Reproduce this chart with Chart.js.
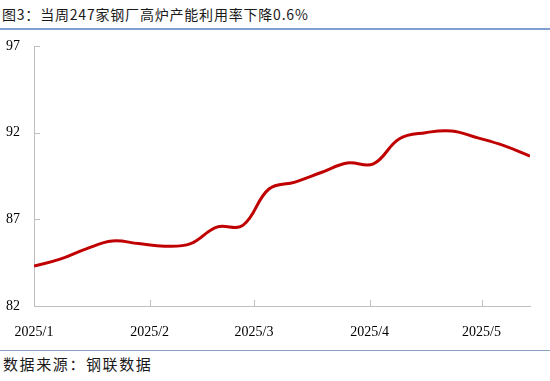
<!DOCTYPE html>
<html lang="zh">
<head>
    <meta charset="UTF-8">
    <title>高炉产能利用率</title>
    <script src="https://cdn.jsdelivr.net/npm/chart.js"></script>
    <style>
        body {
            margin: 0;
            background: #ffffff;
            width: 550px;
            height: 381px;
            position: relative;
            overflow: hidden;
        }

        .title {
            position: absolute;
            left: 2px;
            top: 4px;
            font-family: 'Noto Sans CJK SC', sans-serif;
            font-size: 14px;
            letter-spacing: 0.8px;
            color: #1a1a1a;
        }

        .title-line {
            position: absolute;
            left: 0;
            top: 28px;
            width: 550px;
            height: 2px;
            background: #7f9fd0;
        }

        .chart-box {
            position: absolute;
            left: 0;
            top: 30px;
            width: 550px;
            height: 310px;
        }

        .source-line {
            position: absolute;
            left: 0;
            top: 350px;
            width: 550px;
            height: 1px;
            background: #8aa0c0;
        }

        .source {
            position: absolute;
            left: 3px;
            top: 353px;
            font-family: 'Noto Sans CJK SC', sans-serif;
            font-size: 15px;
            letter-spacing: 1.6px;
            color: #1a1a1a;
        }
    </style>
</head>
<body>
    <div class="title">图3：当周247家钢厂高炉产能利用率下降0.6%</div>
    <div class="title-line"></div>
    <div class="chart-box">
        <canvas id="chart"></canvas>
    </div>
    <div class="source-line"></div>
    <div class="source">数据来源：钢联数据</div>

    <script>
        // weekly points, x = days since 2025-01-01
        const days = [0, 7, 14, 21, 28, 35, 42, 49, 56, 63, 70, 77, 84, 91, 98, 105, 112, 119, 126, 133];
        const utilization = [84.3, 84.7, 85.3, 85.75, 85.6, 85.45, 85.6, 86.55, 86.65, 88.75, 89.15, 89.7, 90.25, 90.2, 91.65, 92.0, 92.1, 91.7, 91.25, 90.65];

        // month starts for the x ticks
        const monthDays = [0, 31, 59, 90, 120];
        const monthLabels = ['2025/1', '2025/2', '2025/3', '2025/4', '2025/5'];
        const yTicks = [82, 87, 92, 97];

        const axisColor = '#bfbfbf';

        // small tick marks pointing into the plot
        const innerTicks = {
            id: 'innerTicks',
            afterDraw(chart) {
                const ctx = chart.ctx;
                const xs = chart.scales.x;
                const ys = chart.scales.y;
                ctx.save();
                ctx.strokeStyle = axisColor;
                ctx.lineWidth = 1;
                ctx.beginPath();
                yTicks.slice(1).forEach(v => {
                    const py = Math.round(ys.getPixelForValue(v)) + 0.5;
                    ctx.moveTo(xs.left, py);
                    ctx.lineTo(xs.left + 6, py);
                });
                monthDays.slice(1).forEach(v => {
                    const px = Math.round(xs.getPixelForValue(v)) + 0.5;
                    ctx.moveTo(px, ys.bottom);
                    ctx.lineTo(px, ys.bottom - 6);
                });
                ctx.stroke();
                ctx.restore();
            }
        };

        new Chart(document.getElementById('chart'), {
            type: 'line',
            data: {
                datasets: [{
                    label: '高炉产能利用率',
                    data: days.map((d, i) => ({ x: d, y: utilization[i] })),
                    borderColor: '#c00000',
                    borderWidth: 3,
                    pointRadius: 0,
                    tension: 0.4,
                    fill: false
                }]
            },
            options: {
                responsive: true,
                maintainAspectRatio: false,
                animation: false,
                layout: {
                    padding: { top: 16, right: 20, left: 0, bottom: 0 }
                },
                plugins: {
                    legend: { display: false },
                    tooltip: { enabled: false }
                },
                scales: {
                    x: {
                        type: 'linear',
                        min: 0,
                        max: 133,
                        afterBuildTicks: s => { s.ticks = monthDays.map(v => ({ value: v })); },
                        afterFit: s => { s.height = 34; },
                        grid: { display: false },
                        border: { display: true, color: axisColor, width: 1 },
                        ticks: {
                            autoSkip: false,
                            maxRotation: 0,
                            padding: 10,
                            color: '#000',
                            font: { family: "'Liberation Serif', serif", size: 14 },
                            callback: v => monthLabels[monthDays.indexOf(v)]
                        }
                    },
                    y: {
                        min: 82,
                        max: 97,
                        afterBuildTicks: s => { s.ticks = yTicks.map(v => ({ value: v })); },
                        afterFit: s => { s.width = 34; },
                        grid: { display: false },
                        border: { display: true, color: axisColor, width: 1 },
                        ticks: {
                            padding: 6,
                            color: '#000',
                            font: { family: "'Liberation Serif', serif", size: 14 }
                        }
                    }
                }
            },
            plugins: [innerTicks]
        });
    </script>
</body>
</html>
